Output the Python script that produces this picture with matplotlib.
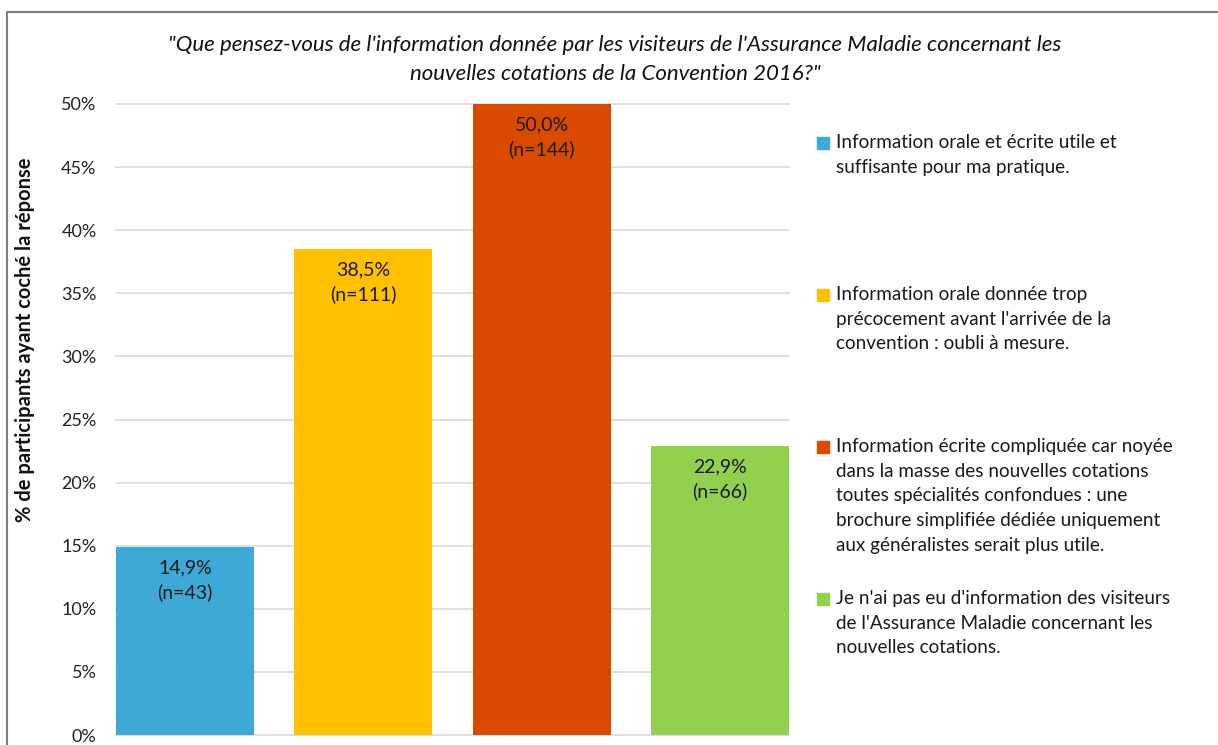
import matplotlib
matplotlib.use("Agg")
import matplotlib.pyplot as plt
from matplotlib.lines import Line2D
from matplotlib.patches import Rectangle
from matplotlib.ticker import PercentFormatter

# data
categories = [
    "Information orale et écrite utile et\nsuffisante pour ma pratique.",
    "Information orale donnée trop\nprécocement avant l'arrivée de la\nconvention : oubli à mesure.",
    "Information écrite compliquée car noyée\ndans la masse des nouvelles cotations\n"
    "toutes spécialités confondues : une\nbrochure simplifiée dédiée uniquement\n"
    "aux généralistes serait plus utile.",
    "Je n'ai pas eu d'information des visiteurs\nde l'Assurance Maladie concernant les\n"
    "nouvelles cotations.",
]
shares = [0.149, 0.385, 0.500, 0.229]
counts = [43, 111, 144, 66]
colors = ["#3EA9D6", "#FFC000", "#D84A00", "#92D050"]

title = ("\"Que pensez-vous de l'information donnée par les visiteurs de l'Assurance Maladie concernant les\n"
         "nouvelles cotations de la Convention 2016?\"")
ylabel = "% de participants ayant coché la réponse"

plt.rcParams["font.family"] = ["Lato", "DejaVu Sans"]

W, H = 1218, 745
fig = plt.figure(figsize=(W / 100, H / 100), dpi=100)

# frame around the chart (top and left edges visible)
fig.add_artist(Line2D([7 / W, 7 / W], [0, 1 - 12 / H], color="#7f7f7f", lw=1.5))
fig.add_artist(Line2D([7 / W, 1], [1 - 12 / H, 1 - 12 / H], color="#7f7f7f", lw=1.5))

ax = fig.add_axes([116 / W, 10 / H, (789 - 116) / W, (735 - 104) / H])
bar_w = 0.775
x = range(len(shares))
bars = ax.bar(x, shares, width=bar_w, color=colors, zorder=2)
ax.set_xlim(-bar_w / 2, len(shares) - 1 + bar_w / 2)
ax.set_ylim(0, 0.5)
ax.set_yticks([i * 0.05 for i in range(11)])
ax.yaxis.set_major_formatter(PercentFormatter(xmax=1, decimals=0))
ax.set_xticks([])
ax.tick_params(axis="y", length=0, pad=14, labelsize=13, labelcolor="#222222")
for s in ax.spines.values():
    s.set_visible(False)
ax.yaxis.grid(True, color="#d9d9d9", lw=1.2, zorder=0)
for gl in ax.get_ygridlines():
    gl.set_clip_on(False)

ax.set_ylabel(ylabel, fontsize=14.5, fontweight="bold", color="#111111")
ax.yaxis.set_label_coords(-0.12, 0.626)

for b, v, n in zip(bars, shares, counts):
    label = f"{v * 100:.1f}%".replace(".", ",") + f"\n(n={n})"
    ax.annotate(label, (b.get_x() + b.get_width() / 2, v), xytext=(0, -9),
                textcoords="offset points", ha="center", va="top",
                fontsize=14, color="#1a1a1a", linespacing=1.45)

fig.text(615 / W, 1 - 35 / H, title, ha="center", va="top", fontsize=16,
         style="italic", color="#111111", linespacing=1.55)

# legend, entries evenly spaced from the top as in the original
tops = [143, 295, 447, 599]
for lab, c, t in zip(categories, colors, tops):
    fig.add_artist(Rectangle((817 / W, 1 - (t + 6) / H), 12 / W, 12 / H,
                             color=c, transform=fig.transFigure))
    fig.text(836 / W, 1 - (t - 9) / H, lab, ha="left", va="top", fontsize=13.6,
             color="#1a1a1a", linespacing=1.55)

fig.savefig("out.png", dpi=100)
